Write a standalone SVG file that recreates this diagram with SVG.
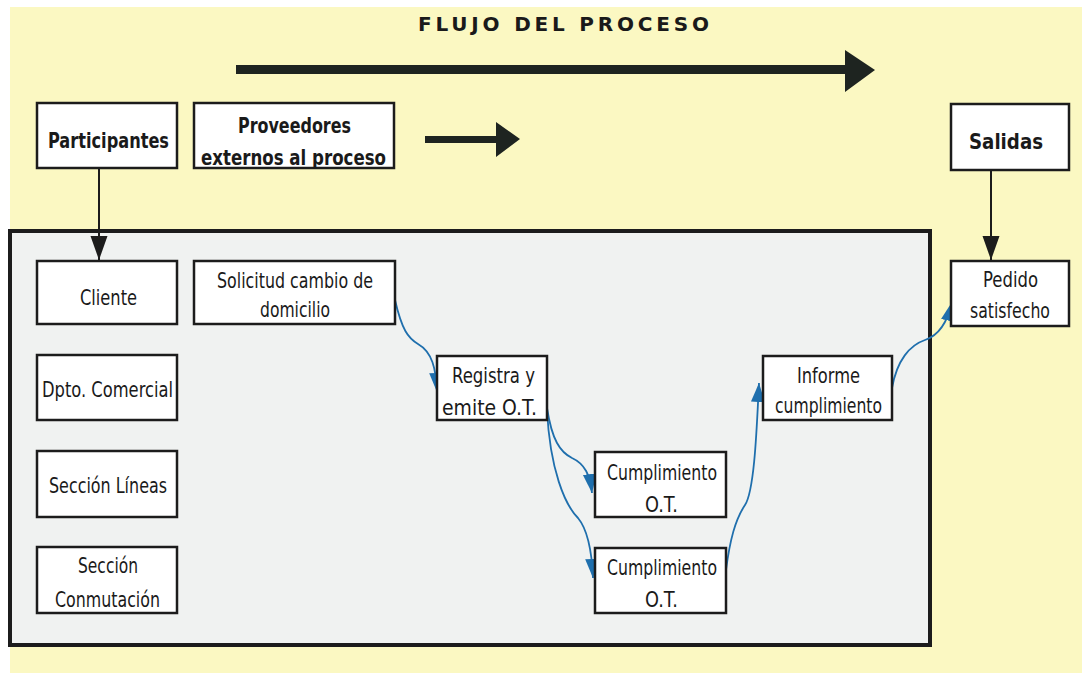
<svg xmlns="http://www.w3.org/2000/svg" width="1082" height="673" viewBox="0 0 1082 673">
<defs>
<style>
.box{fill:#ffffff;stroke:#1c1c1c;stroke-width:2.5}
.t{font-family:"DejaVu Sans Condensed","DejaVu Sans",sans-serif;font-size:21px;fill:#1a1a1a}
.b{font-weight:bold}
.blue{fill:none;stroke:#1f6fad;stroke-width:1.8}
.blk{stroke:#1c1c1c;stroke-width:2;fill:none}
</style>
<marker id="ab" markerUnits="userSpaceOnUse" markerWidth="22" markerHeight="16" refX="19" refY="7" orient="auto">
<path d="M0,0 L19,7 L0,14 z" fill="#1f6fad"/>
</marker>
<marker id="ak" markerUnits="userSpaceOnUse" markerWidth="26" markerHeight="18" refX="24" refY="8.5" orient="auto">
<path d="M0,0 L24,8.5 L0,17 z" fill="#1c1c1c"/>
</marker>
</defs>
<rect x="0" y="0" width="1082" height="673" fill="#ffffff"/>
<rect x="10" y="7" width="1072" height="666" fill="#fbf8c2"/>
<rect x="10" y="231" width="920" height="414" fill="#f0f2f1" stroke="#1c1c1c" stroke-width="4"/>

<text class="t b" x="418" y="31" textLength="291" lengthAdjust="spacing" style="font-family:'DejaVu Sans','Liberation Sans',sans-serif;font-size:20px">FLUJO DEL PROCESO</text>
<polygon points="236,65 845,65 845,50 875,70 845,92 845,74 236,74" fill="#1e2420"/>
<polygon points="425,136 496,136 496,122 520,139 496,157 496,143 425,143" fill="#1e2420"/>

<g id="connectors">
<line class="blk" x1="99" y1="168" x2="99" y2="260" marker-end="url(#ak)"/>
<line class="blk" x1="991" y1="170" x2="991" y2="260" marker-end="url(#ak)"/>
<path class="blue" d="M395,300 C402,330 408,338 418,344 C432,352 436,368 437,392" marker-end="url(#ab)"/>
<path class="blue" d="M547,408 C552,440 560,452 572,458 C585,464 590,475 592,493" marker-end="url(#ab)"/>
<path class="blue" d="M547,410 C550,470 565,505 578,518 C588,530 592,555 593,578" marker-end="url(#ab)"/>
<path class="blue" d="M726,570 C730,540 735,520 745,505 C755,490 757,420 759,383" marker-end="url(#ab)"/>
<path class="blue" d="M892,388 C897,360 910,345 925,340 C940,335 948,320 952,302" marker-end="url(#ab)"/>
</g>

<g id="participantes"><rect class="box" x="37" y="103" width="140" height="65"/><text class="t b" x="48" y="148" textLength="121" lengthAdjust="spacingAndGlyphs">Participantes</text></g>
<g id="proveedores"><rect class="box" x="194" y="103" width="200" height="65"/><text class="t b" x="238" y="133" textLength="113" lengthAdjust="spacingAndGlyphs">Proveedores</text><text class="t b" x="201" y="165" textLength="185" lengthAdjust="spacingAndGlyphs">externos al proceso</text></g>
<g id="salidas"><rect class="box" x="951" y="104" width="118" height="66"/><text class="t b" x="969" y="149" textLength="74" lengthAdjust="spacingAndGlyphs">Salidas</text></g>

<g id="cliente"><rect class="box" x="37" y="261" width="140" height="63"/><text class="t" x="80" y="305" textLength="57" lengthAdjust="spacingAndGlyphs">Cliente</text></g>
<g id="solicitud"><rect class="box" x="194" y="261" width="201" height="63"/><text class="t" x="217" y="288" textLength="156" lengthAdjust="spacingAndGlyphs">Solicitud cambio de</text><text class="t" x="260" y="317" textLength="70" lengthAdjust="spacingAndGlyphs">domicilio</text></g>
<g id="dpto"><rect class="box" x="37" y="355" width="140" height="65"/><text class="t" x="42" y="397" textLength="131" lengthAdjust="spacingAndGlyphs">Dpto. Comercial</text></g>
<g id="lineas"><rect class="box" x="37" y="451" width="140" height="66"/><text class="t" x="49" y="493" textLength="118" lengthAdjust="spacingAndGlyphs">Sección Líneas</text></g>
<g id="conmutacion"><rect class="box" x="37" y="547" width="140" height="66"/><text class="t" x="78" y="573" textLength="60" lengthAdjust="spacingAndGlyphs">Sección</text><text class="t" x="55" y="607" textLength="105" lengthAdjust="spacingAndGlyphs">Conmutación</text></g>

<g id="registra"><rect class="box" x="437" y="356" width="110" height="64"/><text class="t" x="452" y="383" textLength="83" lengthAdjust="spacingAndGlyphs">Registra y</text><text class="t" x="442" y="415" textLength="95" lengthAdjust="spacingAndGlyphs">emite O.T.</text></g>
<g id="cumplimiento1"><rect class="box" x="595" y="452" width="131" height="65"/><text class="t" x="607" y="480" textLength="110" lengthAdjust="spacingAndGlyphs">Cumplimiento</text><text class="t" x="645" y="512" textLength="33" lengthAdjust="spacingAndGlyphs">O.T.</text></g>
<g id="cumplimiento2"><rect class="box" x="595" y="548" width="131" height="65"/><text class="t" x="607" y="575" textLength="110" lengthAdjust="spacingAndGlyphs">Cumplimiento</text><text class="t" x="645" y="607" textLength="33" lengthAdjust="spacingAndGlyphs">O.T.</text></g>
<g id="informe"><rect class="box" x="763" y="356" width="129" height="64"/><text class="t" x="797" y="383" textLength="63" lengthAdjust="spacingAndGlyphs">Informe</text><text class="t" x="775" y="413" textLength="107" lengthAdjust="spacingAndGlyphs">cumplimiento</text></g>
<g id="pedido"><rect class="box" x="951" y="261" width="118" height="65"/><text class="t" x="983" y="287" textLength="55" lengthAdjust="spacingAndGlyphs">Pedido</text><text class="t" x="970" y="318" textLength="80" lengthAdjust="spacingAndGlyphs">satisfecho</text></g>
</svg>
